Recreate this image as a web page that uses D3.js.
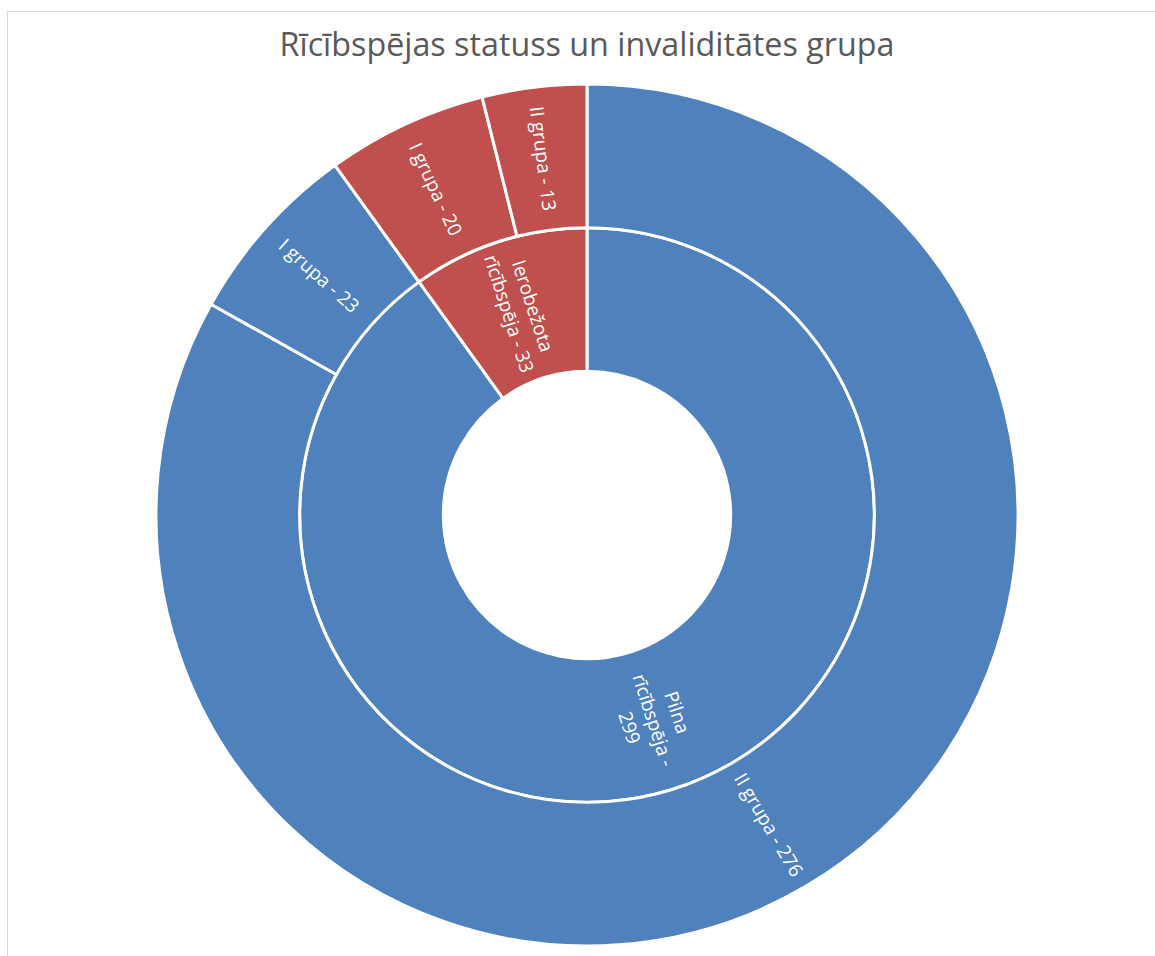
<!DOCTYPE html>
<html>
<head>
<meta charset="utf-8">
<script src="https://cdn.jsdelivr.net/npm/d3@7"></script>
<style>
  body { margin: 0; background: #fff; }
  svg { display: block; }
  text { font-family: "Open Sans", "DejaVu Sans", sans-serif; }
</style>
</head>
<body>
<svg id="chart"></svg>
<script>
// chart data
var title = "Rīcībspējas statuss un invaliditātes grupa";
var statusNames = ["Pilna rīcībspēja", "Ierobežota rīcībspēja"];
var pilnaGroups = ["II grupa", "I grupa"];
var pilnaValues = [276, 23];
var ierobGroups = ["I grupa", "II grupa"];
var ierobValues = [20, 13];

var width = 1155, height = 956;
var cx = 587, cy = 515, outerR = 431;
var colors = {"Pilna rīcībspēja": "#4F81BD", "Ierobežota rīcībspēja": "#C0504D"};

var svg = d3.select("#chart").attr("width", width).attr("height", height);

// chart area border
svg.append("rect")
  .attr("x", 7.5).attr("y", 11.5)
  .attr("width", width).attr("height", height)
  .attr("fill", "none")
  .attr("stroke", "#d9d9d9")
  .attr("stroke-width", 1);

// title, fitted to the width it has in the picture
var titleText = svg.append("text")
  .attr("x", cx).attr("y", 56)
  .attr("text-anchor", "middle")
  .attr("fill", "#595959")
  .style("font-size", "28px")
  .text(title);
var tw = titleText.node().getComputedTextLength();
titleText.style("font-size", (28 * 615 / tw) + "px");

var tree = {
  name: "root",
  children: [
    {name: statusNames[0], children: pilnaGroups.map(function(g, i){ return {name: g, value: pilnaValues[i]}; })},
    {name: statusNames[1], children: ierobGroups.map(function(g, i){ return {name: g, value: ierobValues[i]}; })}
  ]
};

var root = d3.hierarchy(tree)
  .sum(function(d){ return d.value || 0; })
  .sort(function(a, b){ return b.value - a.value; });

d3.partition().size([2 * Math.PI, 3])(root);

var r = d3.scaleLinear().domain([0, 3]).range([0, outerR]);

var arc = d3.arc()
  .startAngle(function(d){ return d.x0; })
  .endAngle(function(d){ return d.x1; })
  .innerRadius(function(d){ return r(d.y0); })
  .outerRadius(function(d){ return r(d.y1); });

var g = svg.append("g").attr("transform", "translate(" + cx + "," + cy + ")");

var nodes = root.descendants().filter(function(d){ return d.depth > 0; });

var topName = function(d){ return d.depth === 1 ? d.data.name : d.parent.data.name; };

g.selectAll("path")
  .data(nodes)
  .enter().append("path")
  .attr("d", arc)
  .attr("fill", function(d){ return colors[topName(d)]; })
  .attr("stroke", "#fff")
  .attr("stroke-width", 3);

var fontSize = 19, lineH = 25, wrapW = 128;

var labels = g.selectAll("g.label")
  .data(nodes)
  .enter().append("g")
  .attr("class", "label")
  .each(function(d){
    var curr = d3.select(this);
    var a = (d.x0 + d.x1) / 2;
    var rad = r((d.y0 + d.y1) / 2);
    var x = Math.sin(a) * rad, y = -Math.cos(a) * rad;
    var deg = a * 180 / Math.PI;
    var rot = deg < 180 ? deg - 90 : deg - 270;
    curr.attr("transform", "translate(" + x + "," + y + ") rotate(" + rot + ")");

    var words = (d.data.name + " - " + d.value).split(" ");
    var text = curr.append("text")
      .attr("text-anchor", "middle")
      .attr("fill", "#fff")
      .style("font-size", fontSize + "px");

    // simple greedy wrap
    var lines = [], line = [];
    var probe = text.append("tspan");
    words.forEach(function(w){
      var test = line.concat([w]).join(" ");
      probe.text(test);
      if (line.length && probe.node().getComputedTextLength() > wrapW) {
        lines.push(line.join(" "));
        line = [w];
      } else {
        line.push(w);
      }
    });
    lines.push(line.join(" "));
    probe.remove();

    var off = -(lines.length - 1) / 2 * lineH;
    lines.forEach(function(l, i){
      text.append("tspan")
        .attr("x", 0)
        .attr("y", off + i * lineH)
        .attr("dy", "0.35em")
        .text(l);
    });
  });
</script>
</body>
</html>
